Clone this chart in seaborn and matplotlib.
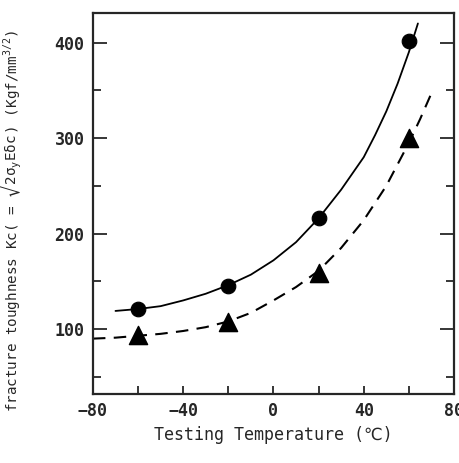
import pandas as pd
import matplotlib
matplotlib.use('Agg')
import matplotlib.pyplot as plt
import seaborn as sns
from matplotlib.ticker import MultipleLocator

# measured points
temp = [-60, -20, 20, 60]
kc_circle = [121, 145, 216, 402]
kc_triangle = [94, 107, 159, 300]

# fitted curves
solid_t = [-70, -60, -50, -40, -30, -20, -10, 0, 10, 20, 30, 40, 45, 50, 55, 60, 64]
solid_kc = [119, 121, 124, 130, 137, 146, 157, 172, 191, 216, 246, 280, 303, 328, 357, 390, 420]
dash_t = [-80, -70, -60, -50, -40, -30, -20, -10, 0, 10, 20, 30, 40, 50, 60, 65, 70]
dash_kc = [90, 91, 93, 95, 98, 102, 108, 117, 130, 144, 161, 185, 214, 250, 295, 320, 347]

sns.set_style('ticks')
plt.rcParams['font.family'] = ['DejaVu Sans Mono', 'DejaVu Sans']
plt.rcParams['font.weight'] = 'bold'
plt.rcParams['mathtext.fontset'] = 'dejavusans'
plt.rcParams['mathtext.default'] = 'regular'

fig = plt.figure(figsize=(4.6, 4.63), dpi=100)
ax = fig.add_axes([0.202, 0.149, 0.785, 0.823])

pts = pd.DataFrame({'t': temp, 'c': kc_circle, 'tr': kc_triangle})
sol = pd.DataFrame({'t': solid_t, 'kc': solid_kc})
dsh = pd.DataFrame({'t': dash_t, 'kc': dash_kc})

sns.lineplot(data=sol, x='t', y='kc', ax=ax, color='black', lw=1.3, sort=False)
sns.lineplot(data=dsh, x='t', y='kc', ax=ax, color='black', lw=1.5, sort=False,
             linestyle=(0, (6, 4)))
sns.scatterplot(data=pts, x='t', y='c', ax=ax, marker='o', s=110, color='black',
                edgecolor='black', zorder=5)
sns.scatterplot(data=pts, x='t', y='tr', ax=ax, marker='^', s=170, color='black',
                edgecolor='black', zorder=5)

ax.set_xlim(-80, 80)
ax.set_ylim(32, 431)
ax.set_xticks([-80, -40, 0, 40, 80])
ax.xaxis.set_minor_locator(MultipleLocator(20))
ax.set_yticks([100, 200, 300, 400])
ax.yaxis.set_minor_locator(MultipleLocator(50))
ax.tick_params(axis='both', which='both', direction='in', right=True, width=1.3,
               labelsize=12, pad=6)
ax.tick_params(axis='x', which='both', length=6)
ax.tick_params(axis='y', which='major', length=10)
ax.tick_params(axis='y', which='minor', length=6)
for s in ax.spines.values():
    s.set_linewidth(1.6)

ax.set_xlabel('Testing Temperature (℃)', fontsize=12, labelpad=4)
ax.set_ylabel(r'fracture toughness Kc( = $\sqrt{2\sigma_y E\delta c}$) (Kgf/mm$^{3/2}$)',
              fontsize=10.3)
ax.yaxis.set_label_coords(-0.19, 0.455)

fig.savefig('out.png', dpi=100)
